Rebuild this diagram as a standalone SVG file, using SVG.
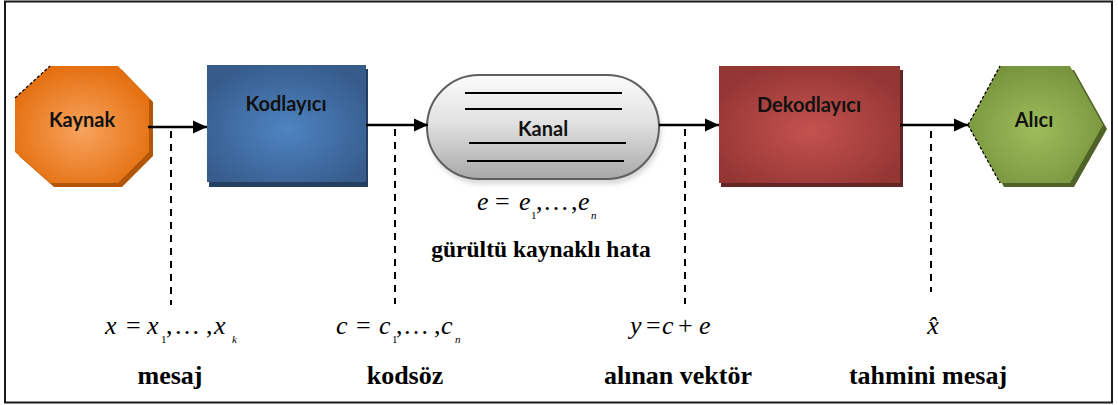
<svg xmlns="http://www.w3.org/2000/svg" width="1118" height="405" viewBox="0 0 1118 405">
  <defs>
    <style>
      .lbl { font-family: Lato, "Liberation Sans", Arial, sans-serif; font-weight: 700; font-size: 20px; fill: #111; text-anchor: middle; }
      .cap { font-family: "Liberation Serif", "Times New Roman", serif; font-weight: 700; font-size: 26px; fill: #000; text-anchor: middle; }
      .cap22 { font-size: 23.5px; }
      .m { font-family: "Liberation Serif", "Times New Roman", serif; font-size: 26px; fill: #000; }
      .mi { font-style: italic; }
      .sub { font-family: "Liberation Serif", "Times New Roman", serif; font-size: 11px; fill: #000; }
      .conn { stroke: #000; stroke-width: 2.5; fill: none; }
      .dash { stroke: #000; stroke-width: 2; stroke-dasharray: 7 6; fill: none; }
      .edge { stroke: #000; stroke-width: 1.3; stroke-dasharray: 3 2; fill: none; }
      .chan { stroke: #000; stroke-width: 2; }
    </style>
    <radialGradient id="gOrange" cx="50%" cy="55%" r="60%">
      <stop offset="0" stop-color="#F7A35E"/>
      <stop offset="1" stop-color="#E36C0A"/>
    </radialGradient>
    <radialGradient id="gBlue" cx="50%" cy="55%" r="60%">
      <stop offset="0" stop-color="#4E84C2"/>
      <stop offset="1" stop-color="#375C8C"/>
    </radialGradient>
    <radialGradient id="gRed" cx="50%" cy="55%" r="60%">
      <stop offset="0" stop-color="#C4524F"/>
      <stop offset="1" stop-color="#943634"/>
    </radialGradient>
    <radialGradient id="gGreen" cx="50%" cy="55%" r="60%">
      <stop offset="0" stop-color="#9DBD5B"/>
      <stop offset="1" stop-color="#76923C"/>
    </radialGradient>
    <linearGradient id="gGray" x1="0" y1="0" x2="0" y2="1">
      <stop offset="0" stop-color="#FBFBFB"/>
      <stop offset="0.45" stop-color="#E2E2E2"/>
      <stop offset="1" stop-color="#A8A8A8"/>
    </linearGradient>
    <filter id="soft" x="-10%" y="-10%" width="120%" height="130%">
      <feGaussianBlur stdDeviation="2.5"/>
    </filter>
    <marker id="arrow" markerUnits="userSpaceOnUse" markerWidth="15" markerHeight="14" refX="14" refY="7" orient="auto">
      <path d="M0,0.5 L14,7 L0,13.5 Z" fill="#000"/>
    </marker>
  </defs>

  <rect x="5" y="1.5" width="1107" height="401" fill="#fff" stroke="#1a1a1a" stroke-width="2"/>

  <g id="kaynak">
    <polygon points="54,70 122,70 153,102 153,156 122,187 54,187 19,156 19,102" fill="#B35507"/>
    <polygon points="50,66 118,66 149,98 149,152 118,183 50,183 15,152 15,98" fill="url(#gOrange)"/>
    <path class="edge" d="M15,98 L50,66"/>
    <text class="lbl" x="82" y="127">Kaynak</text>
  </g>

  <g id="kodlayici">
    <rect x="209" y="69" width="159" height="118" fill="#243F60"/>
    <rect x="207" y="65" width="159" height="117" fill="url(#gBlue)"/>
    <text class="lbl" x="286" y="111">Kodlayıcı</text>
  </g>

  <g id="kanal">
    <rect x="429" y="80" width="232" height="104" rx="52" fill="#BDBDBD" opacity="0.6" filter="url(#soft)"/>
    <rect x="427" y="75" width="232" height="104" rx="52" fill="url(#gGray)" stroke="#5f5f5f" stroke-width="2"/>
    <line class="chan" x1="465" y1="93" x2="622" y2="93"/>
    <line class="chan" x1="465" y1="109" x2="622" y2="109"/>
    <line class="chan" x1="469" y1="143" x2="626" y2="143"/>
    <line class="chan" x1="467" y1="161" x2="624" y2="161"/>
    <text class="lbl" x="543" y="136">Kanal</text>
  </g>

  <g id="dekodlayici">
    <rect x="721" y="70" width="182" height="117" fill="#632523"/>
    <rect x="719" y="66" width="181" height="117" fill="url(#gRed)"/>
    <text class="lbl" x="809" y="112">Dekodlayıcı</text>
  </g>

  <g id="alici">
    <polygon points="972,129 1004,70 1074,70 1107,129 1074,187 1004,187" fill="#4F6228"/>
    <polygon points="968,125 1000,66 1070,66 1103,125 1070,183 1000,183" fill="url(#gGreen)"/>
    <path class="edge" d="M968,125 L1000,66 M968,125 L1000,183"/>
    <text class="lbl" x="1034" y="127">Alıcı</text>
  </g>

  <g id="connectors">
    <line class="conn" x1="148" y1="127" x2="207" y2="127" marker-end="url(#arrow)"/>
    <line class="conn" x1="366" y1="125" x2="428" y2="125" marker-end="url(#arrow)"/>
    <line class="conn" x1="659" y1="125" x2="719" y2="125" marker-end="url(#arrow)"/>
    <line class="conn" x1="900" y1="125" x2="968" y2="125" marker-end="url(#arrow)"/>
    <line class="dash" x1="171" y1="131" x2="171" y2="305"/>
    <line class="dash" x1="395" y1="129" x2="395" y2="304"/>
    <line class="dash" x1="685" y1="129" x2="685" y2="304"/>
    <line class="dash" x1="931" y1="131" x2="931" y2="292"/>
  </g>

  <g id="labels">
    <text class="m" y="210"><tspan class="mi" x="477">e</tspan><tspan x="495">=</tspan><tspan class="mi" x="519">e</tspan><tspan x="536">,</tspan><tspan x="543">…</tspan><tspan x="571">,</tspan><tspan class="mi" x="578">e</tspan></text>
    <text class="sub" y="219"><tspan x="531">1</tspan><tspan class="mi" x="591">n</tspan></text>
    <text class="cap cap22" x="541" y="257">gürültü kaynaklı hata</text>

    <text class="m" y="334"><tspan class="mi" x="105">x</tspan><tspan x="126">=</tspan><tspan class="mi" x="147">x</tspan><tspan x="166">,</tspan><tspan x="174">…</tspan><tspan x="206">,</tspan><tspan class="mi" x="214">x</tspan></text>
    <text class="sub" y="343"><tspan x="161">1</tspan><tspan class="mi" x="232">k</tspan></text>

    <text class="m" y="334"><tspan class="mi" x="336">c</tspan><tspan x="356">=</tspan><tspan class="mi" x="379">c</tspan><tspan x="396">,</tspan><tspan x="403">…</tspan><tspan x="434">,</tspan><tspan class="mi" x="441">c</tspan></text>
    <text class="sub" y="343"><tspan x="392">1</tspan><tspan class="mi" x="455">n</tspan></text>

    <text class="m" y="334"><tspan class="mi" x="630">y</tspan><tspan x="646">=</tspan><tspan class="mi" x="662">c</tspan><tspan x="678">+</tspan><tspan class="mi" x="699">e</tspan></text>

    <text class="m mi" x="933" y="334" text-anchor="middle">x̂</text>

    <text class="cap" x="170" y="384">mesaj</text>
    <text class="cap" x="405" y="384">kodsöz</text>
    <text class="cap" x="678" y="384">alınan vektör</text>
    <text class="cap" x="928" y="384">tahmini mesaj</text>
  </g>
</svg>
